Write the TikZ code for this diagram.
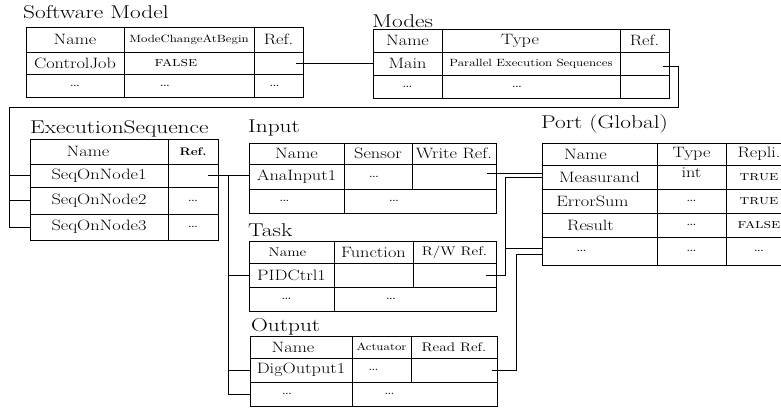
\documentclass[tikz,border=0pt]{standalone}
\usepackage{graphicx}
\newbox\StBox
\newdimen\StShift
\tikzset{
  stc/.style={execute at begin node={\setbox\StBox=\hbox\bgroup},
    execute at end node={\egroup\makebox[0pt]{\kern\StShift\kern\StShift\scalebox{1.22}[1]{\box\StBox}}\global\StShift=0pt}},
  stt/.style={execute at begin node={\setbox\StBox=\hbox\bgroup},
    execute at end node={\egroup\scalebox{1.26}[1]{\box\StBox}}},
  dx/.code={\global\StShift=#1\relax},
  cell/.style={draw, line width=0.8pt, rectangle, inner sep=0pt, outer sep=0pt,
    anchor=north west, stc, font=\fontsize{15}{17}\selectfont},
  ttl/.style={inner sep=0pt, anchor=base west, stt, font=\fontsize{18.5}{20}\selectfont},
  sml/.style={font=\fontsize{10.5}{12}\selectfont},
  med/.style={font=\fontsize{12.5}{14}\selectfont},
  scp/.style={font=\fontsize{13.5}{15}\selectfont\scshape},
  bsm/.style={font=\fontsize{11}{13}\selectfont\bfseries},
  conn/.style={line width=0.8pt},
}
\newcommand\TCell[7][]{\node[cell,minimum width={#5pt-#3pt},minimum height={#6pt-#4pt},#1] (#2) at (#3,#4) {#7};}
\begin{document}
\begin{tikzpicture}[x=1pt,y=-1pt]
\useasboundingbox (0,0) rectangle (781,407);
% titles
\node[ttl] (t-sm) at (23,18) {Software Model};
\node[ttl] (t-md) at (372,27) {Modes};
\node[ttl] (t-es) at (30,133) {ExecutionSequence};
\node[ttl] (t-in) at (248,132.5) {Input};
\node[ttl] (t-tk) at (248,236) {Task};
\node[ttl] (t-ou) at (251,331.5) {Output};
\node[ttl] (t-pt) at (541,128.5) {Port (Global)};
% Software Model
\TCell{sm-11}{26}{27}{124}{52}{Name}
\TCell[sml]{sm-12}{124}{27}{254}{52}{ModeChangeAtBegin}
\TCell{sm-13}{254}{27}{303}{52}{Ref.}
\TCell{sm-21}{26}{52}{124}{74}{ControlJob}
\TCell[scp,dx=-13pt]{sm-22}{124}{52}{254}{74}{false}
\TCell{sm-23}{254}{52}{303}{74}{}
\TCell{sm-31}{26}{74}{124}{97}{\dots}
\TCell[dx=-24pt]{sm-32}{124}{74}{254}{97}{\dots}
\TCell[dx=-4pt]{sm-33}{254}{74}{303}{97}{\dots}
% Modes
\TCell{md-11}{373}{29}{442}{52}{Name}
\TCell[dx=-11pt]{md-12}{442}{29}{620}{52}{Type}
\TCell{md-13}{620}{29}{669}{52}{Ref.}
\TCell{md-21}{373}{52}{442}{75}{Main}
\TCell[sml]{md-22}{442}{52}{620}{75}{Parallel Execution Sequences}
\TCell{md-23}{620}{52}{669}{75}{}
\TCell{md-31}{373}{75}{442}{98}{\dots}
\TCell[dx=-14pt]{md-32}{442}{75}{620}{98}{\dots}
\TCell{md-33}{620}{75}{669}{98}{}
% ExecutionSequence
\TCell[dx=-11pt]{es-11}{30}{139}{168}{164}{Name}
\TCell[bsm]{es-12}{168}{139}{218}{164}{Ref.}
\TCell{es-21}{30}{164}{168}{187}{SeqOnNode1}
\TCell{es-22}{168}{164}{218}{187}{}
\TCell{es-31}{30}{187}{168}{214}{SeqOnNode2}
\TCell{es-32}{168}{187}{218}{214}{\dots}
\TCell{es-41}{30}{214}{168}{240}{SeqOnNode3}
\TCell{es-42}{168}{214}{218}{240}{\dots}
% Input
\TCell{in-11}{249}{143}{344}{164}{Name}
\TCell{in-12}{344}{143}{412}{164}{Sensor}
\TCell{in-13}{412}{143}{496}{164}{Write Ref.}
\TCell{in-21}{249}{164}{344}{189}{AnaInput1}
\TCell[dx=-4pt]{in-22}{344}{164}{412}{189}{\dots}
\TCell{in-23}{412}{164}{496}{189}{}
\TCell[dx=-12pt]{in-31}{249}{189}{344}{213}{\dots}
\TCell[dx=-26pt]{in-32}{344}{189}{496}{213}{\dots}
% Task
\TCell[med,dx=-4pt]{tk-11}{249}{241}{334}{263}{Name}
\TCell{tk-12}{334}{241}{413}{263}{Function}
\TCell[med]{tk-13}{413}{241}{496}{263}{R/W Ref.}
\TCell{tk-21}{249}{263}{334}{287}{PIDCtrl1}
\TCell{tk-22}{334}{263}{413}{287}{}
\TCell{tk-23}{413}{263}{496}{287}{}
\TCell[dx=-5pt]{tk-31}{249}{287}{334}{311}{\dots}
\TCell[dx=-24pt]{tk-32}{334}{287}{496}{311}{\dots}
% Output
\TCell[dx=-8pt]{ou-11}{250}{336}{352}{358}{Name}
\TCell[sml]{ou-12}{352}{336}{411}{358}{Actuator}
\TCell[med]{ou-13}{411}{336}{497}{358}{Read Ref.}
\TCell{ou-21}{250}{358}{352}{382}{DigOutput1}
\TCell[dx=-8pt]{ou-22}{352}{358}{411}{382}{\dots}
\TCell{ou-23}{411}{358}{497}{382}{}
\TCell[dx=-14pt]{ou-31}{250}{382}{352}{406}{\dots}
\TCell[dx=-35pt]{ou-32}{352}{382}{497}{406}{\dots}
% Port (Global)
\TCell[dx=-14pt]{pt-11}{542}{143}{657}{165}{Name}
\TCell{pt-12}{657}{143}{726}{165}{Type}
\TCell{pt-13}{726}{143}{792}{165}{Repli.}
\TCell{pt-21}{542}{165}{657}{189}{Measurand}
\TCell{pt-22}{657}{165}{726}{189}{\smash{int}}
\TCell[scp]{pt-23}{726}{165}{792}{189}{true}
\TCell[dx=-7pt]{pt-31}{542}{189}{657}{213}{ErrorSum}
\TCell{pt-32}{657}{189}{726}{213}{\dots}
\TCell[scp]{pt-33}{726}{189}{792}{213}{true}
\TCell[dx=-9pt]{pt-41}{542}{213}{657}{237}{Result}
\TCell{pt-42}{657}{213}{726}{237}{\dots}
\TCell[scp]{pt-43}{726}{213}{792}{237}{false}
\TCell[dx=-18pt]{pt-51}{542}{237}{657}{265}{\dots}
\TCell{pt-52}{657}{237}{726}{265}{\dots}
\TCell{pt-53}{726}{237}{792}{265}{\dots}
% connectors
\coordinate (s1) at ([xshift=-7pt]sm-23.east);
\draw[conn] (s1) -- (s1 -| md-21.west);
\coordinate (s2) at ([xshift=-6pt,yshift=-3pt]md-23.east);
\coordinate (k2a) at (678,107);
\coordinate (k2b) at (9,107);
\draw[conn] (s2) -| (k2a) -- (k2b) |- (es-41.west);
\draw[conn] (k2b |- es-21.west) -- (es-21.west);
\draw[conn] (k2b |- es-31.west) -- (es-31.west);
\coordinate (s3) at ([xshift=-10pt]es-22.east);
\path (s3) ++(20pt,0pt) coordinate (k3);
\draw[conn] (s3) -- (s3 -| in-21.west);
\draw[conn] (k3) |- (ou-31.west);
\draw[conn] (k3 |- tk-21.west) -- (tk-21.west);
\draw[conn] (k3 |- ou-21.west) -- (ou-21.west);
\coordinate (s4) at ([xshift=-9pt,yshift=3pt]in-23.east);
\draw[conn] (s4) -- (s4 -| pt-21.west);
\coordinate (s5) at ([xshift=-10pt]tk-23.east);
\coordinate (k5) at (505,177);
\draw[conn] (s5) -| (k5) -- (pt-21.west);
\coordinate (e5) at ([yshift=3pt]pt-51.west);
\draw[conn] (k5 |- e5) -- (e5);
\coordinate (s6) at ([xshift=-5pt]ou-23.east);
\path (s6) ++(24pt,0pt) coordinate (k6);
\coordinate (e6) at ([yshift=-3pt]pt-51.west);
\draw[conn] (s6) -- (k6) |- (e6);
\end{tikzpicture}
\end{document}
